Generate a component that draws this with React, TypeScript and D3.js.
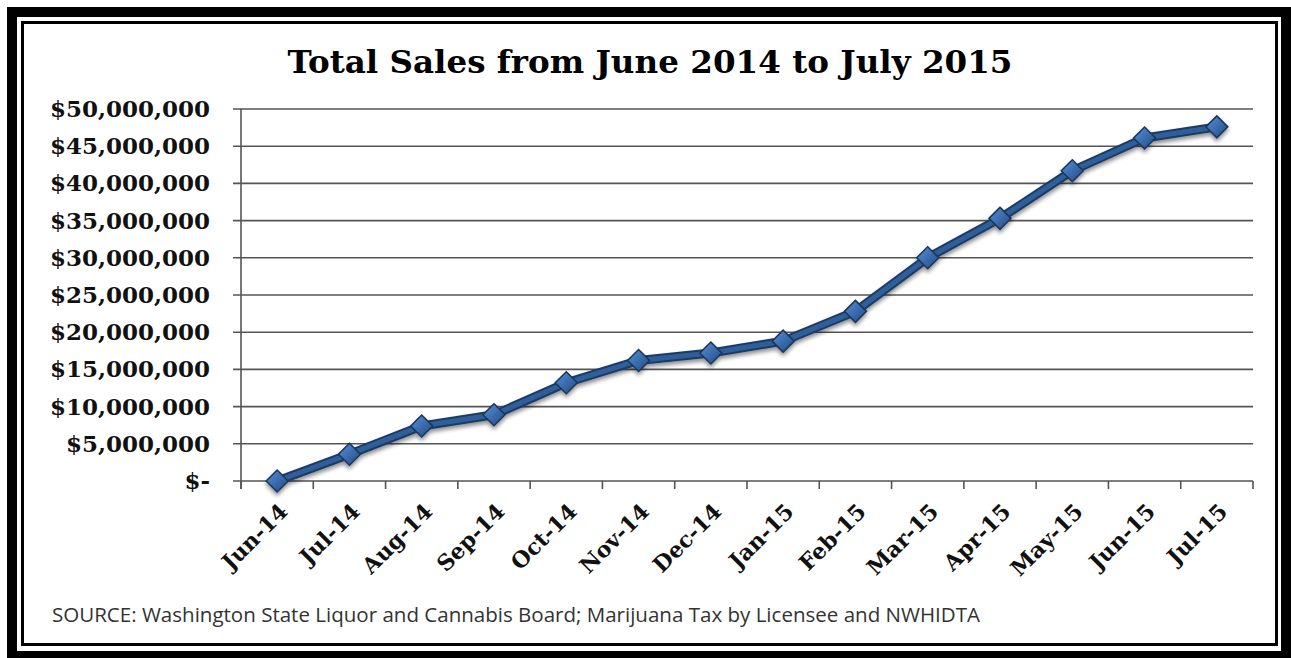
import React from "react";
import * as d3 from "d3";

const categories = ["Jun-14","Jul-14","Aug-14","Sep-14","Oct-14","Nov-14","Dec-14","Jan-15","Feb-15","Mar-15","Apr-15","May-15","Jun-15","Jul-15"];
const sales = [0, 3600000, 7400000, 8900000, 13200000, 16200000, 17200000, 18800000, 22800000, 30000000, 35300000, 41700000, 46100000, 47600000];
const yTicks = [0, 5000000, 10000000, 15000000, 20000000, 25000000, 30000000, 35000000, 40000000, 45000000, 50000000];
const title = "Total Sales from June 2014 to July 2015";
const source = "SOURCE: Washington State Liquor and Cannabis Board; Marijuana Tax by Licensee and NWHIDTA";

const W = 1291, H = 658;
const plot = { left: 241, right: 1253, top: 109, bottom: 481 };

function fmt(v: number) {
  if (v === 0) return "$-";
  return "$" + d3.format(",")(v);
}

export default function App() {
  const x = d3.scaleBand<string>().domain(categories).range([plot.left, plot.right]);
  const y = d3.scaleLinear().domain([0, 50000000]).range([plot.bottom, plot.top]);
  const cx = (c: string) => (x(c) as number) + x.bandwidth() / 2;
  const line = d3.line<number>().x((_, i) => cx(categories[i])).y((d) => y(d));
  const path = line(sales) as string;
  const serif = "'DejaVu Serif', Georgia, serif";
  const gridColor = "#555";
  const tickXs = categories.map((c) => x(c) as number).concat([plot.right]);
  const ds = 11;
  return (
    <svg width={W} height={H} style={{ position: "absolute", left: 0, top: 0 }}>
      <defs>
        <linearGradient id="mk" x1="0" y1="0" x2="1" y2="1">
          <stop offset="0" stopColor="#5b8fd0" />
          <stop offset="0.5" stopColor="#3a6db0" />
          <stop offset="1" stopColor="#24497a" />
        </linearGradient>
        <filter id="sh" x="-20%" y="-20%" width="140%" height="160%">
          <feGaussianBlur in="SourceAlpha" stdDeviation="2" />
          <feOffset dx="0" dy="3" result="b" />
          <feComponentTransfer><feFuncA type="linear" slope="0.45" /></feComponentTransfer>
          <feMerge><feMergeNode /><feMergeNode in="SourceGraphic" /></feMerge>
        </filter>
      </defs>
      <rect x={0} y={0} width={W} height={H} fill="#fff" />
      <rect x={7} y={7} width={W - 7} height={H - 7} fill="#000" />
      <rect x={17} y={17} width={1264} height={634} fill="#fff" />
      <rect x={22.5} y={22.5} width={1254} height={622} fill="#fff" stroke="#000" strokeWidth={3} />

      <text x={650} y={73} textAnchor="middle" fontFamily={serif} fontWeight="bold" fontSize={31} fill="#000" textLength={725} lengthAdjust="spacingAndGlyphs">{title}</text>

      {yTicks.map((t) => (
        <g key={t}>
          <line x1={233} x2={plot.right} y1={y(t)} y2={y(t)} stroke={gridColor} strokeWidth={1.6} />
          <text x={210} y={y(t) + 8} textAnchor="end" fontFamily={serif} fontWeight="bold" fontSize={23} fill="#111">{fmt(t)}</text>
        </g>
      ))}
      <line x1={plot.left} x2={plot.left} y1={plot.top} y2={plot.bottom + 8} stroke={gridColor} strokeWidth={1.6} />
      {tickXs.map((tx, i) => (
        <line key={i} x1={tx} x2={tx} y1={plot.bottom} y2={plot.bottom + 8} stroke={gridColor} strokeWidth={1.6} />
      ))}
      {categories.map((c) => (
        <text key={c} transform={`translate(${cx(c) + 12},${plot.bottom + 32}) rotate(-45)`} textAnchor="end" fontFamily={serif} fontWeight="bold" fontSize={22} fill="#111">{c}</text>
      ))}

      <g filter="url(#sh)">
        <path d={path} fill="none" stroke="#1d3b63" strokeWidth={9} strokeLinejoin="round" />
        <path d={path} fill="none" stroke="#2f5f9b" strokeWidth={5} strokeLinejoin="round" />
        {sales.map((v, i) => {
          const px = cx(categories[i]), py = y(v);
          return (
            <path key={i} d={`M${px},${py - ds}L${px + ds},${py}L${px},${py + ds}L${px - ds},${py}Z`} fill="url(#mk)" stroke="#1b3558" strokeWidth={1.5} />
          );
        })}
      </g>

      <text x={52} y={622} fontFamily="'Open Sans', 'Noto Sans', sans-serif" fontSize={20} fill="#333" textLength={928} lengthAdjust="spacingAndGlyphs">{source}</text>
    </svg>
  );
}
